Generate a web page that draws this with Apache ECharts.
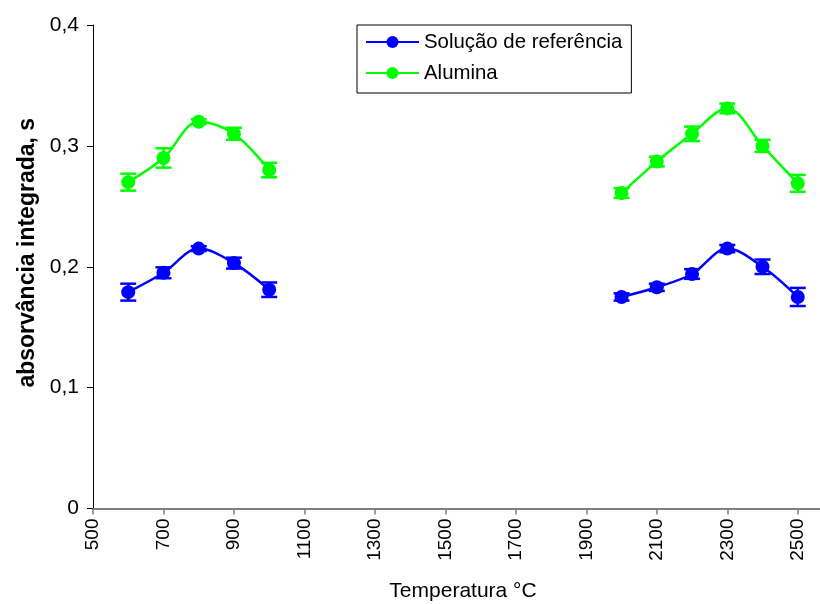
<!DOCTYPE html>
<html>
<head>
<meta charset="utf-8">
<script src="https://cdn.jsdelivr.net/npm/echarts@6/dist/echarts.min.js"></script>
<style>
  html, body { margin: 0; padding: 0; background: #fff; }
  #chart { width: 820px; height: 604px; }
</style>
</head>
<body>
<div id="chart"></div>
<script>
// Temperatures (°C) of the two pyrolysis / atomization ranges
const tempLow = [600, 700, 800, 900, 1000];
const tempHigh = [2000, 2100, 2200, 2300, 2400, 2500];

// Integrated absorbance (s) — reference solution
const refLow = [0.179, 0.195, 0.215, 0.203, 0.181];
const refLowErr = [0.007, 0.0045, 0.002, 0.0045, 0.006];
const refHigh = [0.175, 0.183, 0.194, 0.215, 0.200, 0.175];
const refHighErr = [0.003, 0.003, 0.004, 0.003, 0.006, 0.0075];

// Integrated absorbance (s) — alumina
const aluLow = [0.270, 0.290, 0.320, 0.310, 0.280];
const aluLowErr = [0.007, 0.008, 0.002, 0.005, 0.006];
const aluHigh = [0.261, 0.287, 0.310, 0.331, 0.300, 0.269];
const aluHighErr = [0.004, 0.004, 0.006, 0.004, 0.005, 0.007];

// Axis ticks (the last x tick lies past the right edge of the page)
const xTicks = { min: 500, max: 2600, step: 200, lastLabel: 2500 };
const yTicks = { min: 0, max: 0.4, step: 0.1 };

const seriesNames = ['Solução de referência', 'Alumina'];
const colors = ['#0000FF', '#00FF00'];
const FONT = '"Liberation Sans", Arial, sans-serif';

function pairs(xs, ys) { return xs.map((x, i) => [x, ys[i]]); }
function bars(xs, ys, es) { return xs.map((x, i) => [x, ys[i] - es[i], ys[i] + es[i]]); }

function lineSeries(name, color, data) {
  return {
    type: 'line', name: name, data: data, smooth: 0.35,
    symbol: 'circle', symbolSize: 14,
    lineStyle: { color: color, width: 2.5 },
    itemStyle: { color: color },
    z: 3
  };
}

function errorSeries(name, color, data) {
  return {
    type: 'custom', name: name, data: data, z: 4,
    renderItem: function (params, api) {
      const x = api.value(0);
      const lo = api.coord([x, api.value(1)]);
      const hi = api.coord([x, api.value(2)]);
      const hw = 8;
      const style = { stroke: color, lineWidth: 2.5 };
      return {
        type: 'group',
        children: [
          { type: 'line', shape: { x1: lo[0], y1: lo[1], x2: hi[0], y2: hi[1] }, style: style },
          { type: 'line', shape: { x1: lo[0] - hw, y1: lo[1], x2: lo[0] + hw, y2: lo[1] }, style: style },
          { type: 'line', shape: { x1: hi[0] - hw, y1: hi[1], x2: hi[0] + hw, y2: hi[1] }, style: style }
        ]
      };
    }
  };
}

const chart = echarts.init(document.getElementById('chart'), null, { renderer: 'canvas' });

chart.setOption({
  animation: false,
  backgroundColor: '#fff',
  textStyle: { fontFamily: FONT, color: '#000' },
  grid: { left: 93, right: -13, top: 25, bottom: 95.5, containLabel: false, outerBoundsMode: 'none' },
  legend: {
    data: seriesNames.map((n, i) => ({ name: n, itemStyle: { color: colors[i] } })),
    orient: 'vertical',
    left: 357, top: 25,
    itemWidth: 53, itemHeight: 15, itemGap: 11,
    padding: [7, 9, 10, 8],
    borderColor: '#000', borderWidth: 1,
    backgroundColor: '#fff',
    textStyle: { fontFamily: FONT, fontSize: 20.4, color: '#000' }
  },
  xAxis: {
    type: 'value',
    min: xTicks.min, max: xTicks.max, interval: xTicks.step,
    name: 'Temperatura °C',
    nameLocation: 'middle', nameGap: 72,
    nameTextStyle: { fontFamily: FONT, fontSize: 21, color: '#000' },
    axisLine: { onZero: false, lineStyle: { color: '#808080', width: 2 } },
    axisTick: { show: true, inside: false, length: 6, lineStyle: { color: '#808080', width: 1.5 } },
    axisLabel: {
      rotate: 90, margin: 10, fontFamily: FONT, fontSize: 19, color: '#000',
      formatter: v => (v > xTicks.lastLabel ? '' : String(v))
    },
    splitLine: { show: false }
  },
  yAxis: {
    type: 'value',
    min: yTicks.min, max: yTicks.max, interval: yTicks.step,
    name: 'absorvância integrada, s',
    nameLocation: 'middle', nameGap: 50,
    nameTextStyle: { fontFamily: FONT, fontSize: 23, fontWeight: 'bold', color: '#000', padding: [0, 0, 0, 28] },
    axisLine: { show: true, lineStyle: { color: '#000', width: 1 } },
    axisTick: { show: true, inside: false, length: 6, lineStyle: { color: '#000', width: 1 } },
    axisLabel: {
      margin: 14, fontFamily: FONT, fontSize: 21, color: '#000',
      formatter: v => (v === 0 ? '0' : v.toFixed(1).replace('.', ','))
    },
    splitLine: { show: false }
  },
  series: [
    lineSeries(seriesNames[0], colors[0], pairs(tempLow, refLow)),
    lineSeries(seriesNames[0], colors[0], pairs(tempHigh, refHigh)),
    errorSeries(seriesNames[0], colors[0], bars(tempLow, refLow, refLowErr)),
    errorSeries(seriesNames[0], colors[0], bars(tempHigh, refHigh, refHighErr)),
    lineSeries(seriesNames[1], colors[1], pairs(tempLow, aluLow)),
    lineSeries(seriesNames[1], colors[1], pairs(tempHigh, aluHigh)),
    errorSeries(seriesNames[1], colors[1], bars(tempLow, aluLow, aluLowErr)),
    errorSeries(seriesNames[1], colors[1], bars(tempHigh, aluHigh, aluHighErr))
  ]
});
</script>
</body>
</html>
